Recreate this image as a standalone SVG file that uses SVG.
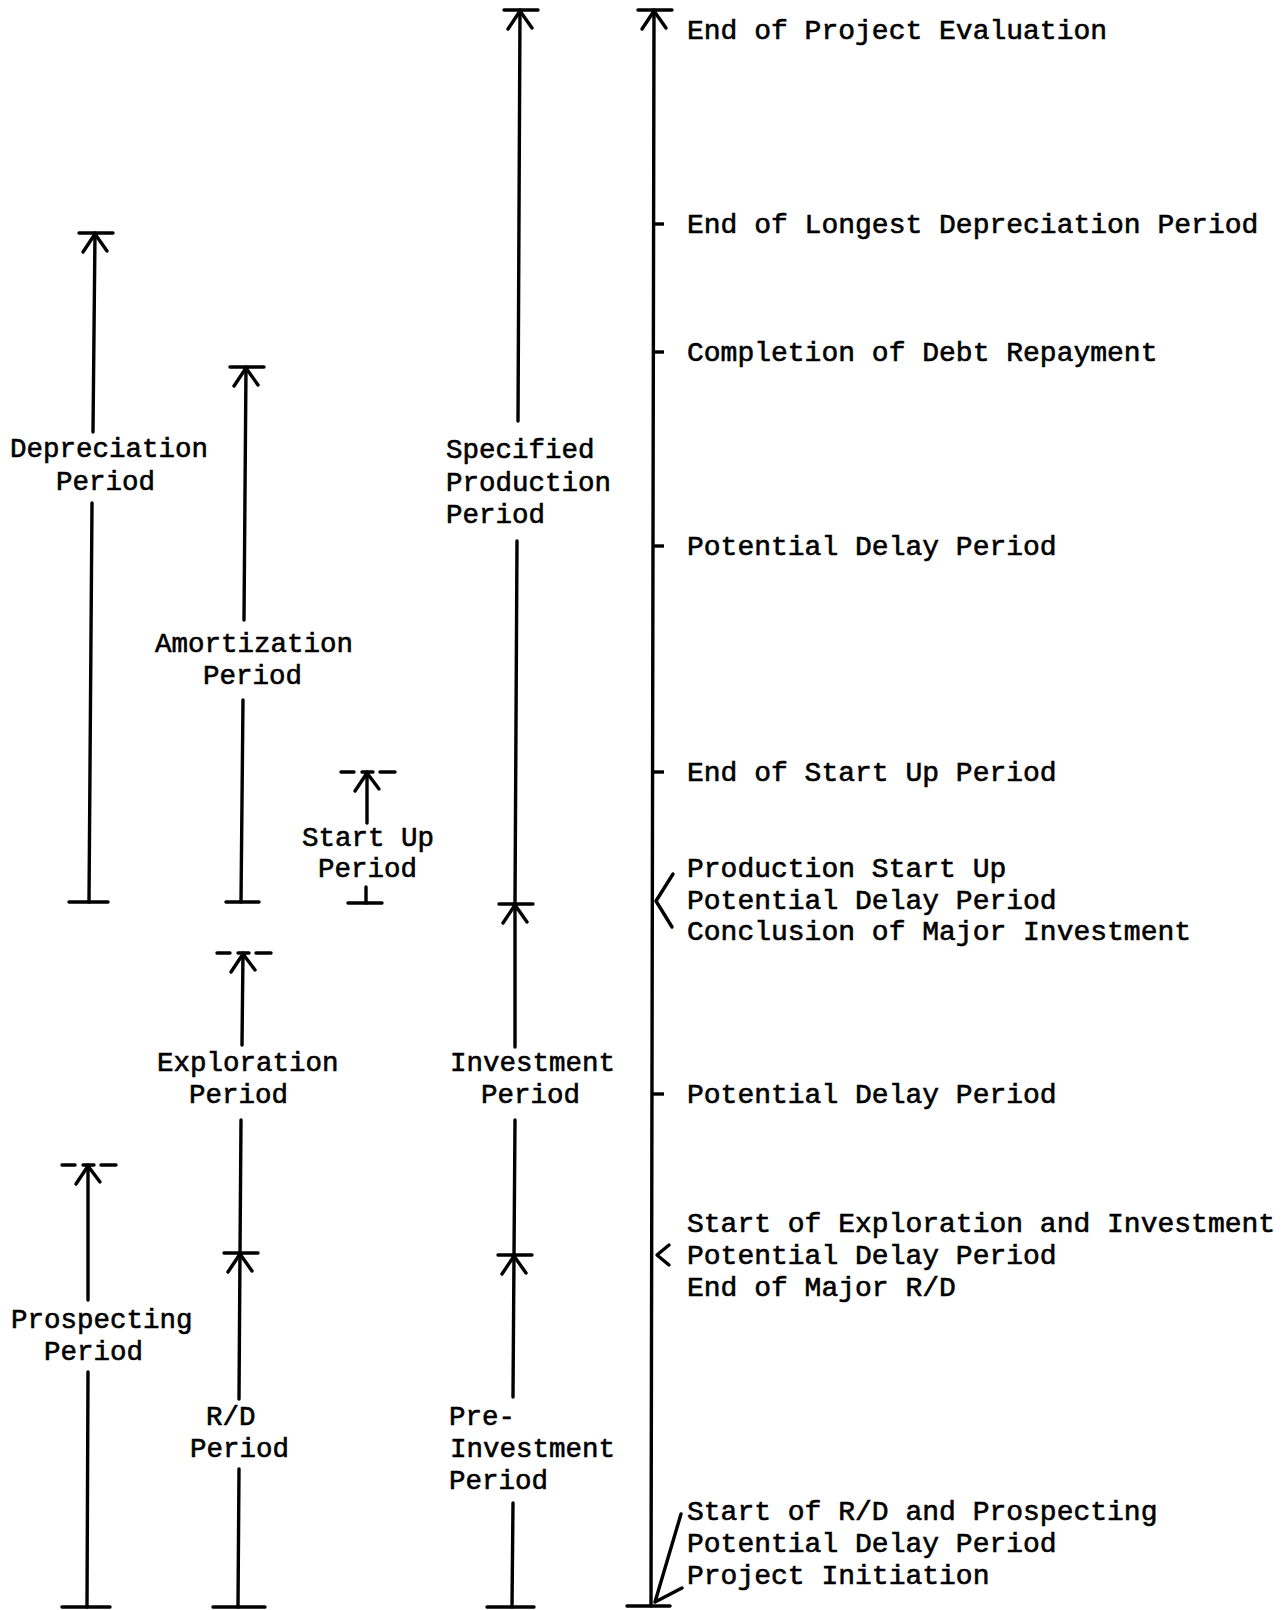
<svg xmlns="http://www.w3.org/2000/svg" width="1287" height="1610" viewBox="0 0 1287 1610">
<style>
  .ln { stroke:#000; stroke-width:3.4; fill:none; stroke-linecap:round; stroke-linejoin:round; }
  .tk { stroke:#000; stroke-width:3.4; fill:none; }
  .lbl { font-family:"Liberation Mono","Courier New",monospace; font-size:27.5px; fill:#000; stroke:#000; stroke-width:0.6; }
  .rl { font-family:"Liberation Mono","Courier New",monospace; font-size:28px; fill:#000; stroke:#000; stroke-width:0.6; }
</style>
<defs>
  <path id="cap" class="ln" d="M-16,0 H18 M0,1 L-12,19 M0,1 L12,18"/>
  <path id="ocap" class="ln" d="M-26,0 H-13 M-5,0 H6 M13,0 H28 M0,1 L-12,19 M0,1 L12,17"/>
</defs>
<rect width="1287" height="1610" fill="#fff"/>

<g id="connectors">
  <line class="ln" x1="654" y1="10" x2="651" y2="1606"/>
  <line class="ln" x1="95" y1="233" x2="93" y2="432"/>
  <line class="ln" x1="92" y1="503" x2="89" y2="902"/>
  <line class="ln" x1="246" y1="367" x2="244" y2="620"/>
  <line class="ln" x1="243" y1="700" x2="241" y2="902"/>
  <line class="ln" x1="367" y1="772" x2="367" y2="823"/>
  <line class="ln" x1="366" y1="887" x2="366" y2="903"/>
  <line class="ln" x1="520" y1="10" x2="518" y2="421"/>
  <line class="ln" x1="517" y1="541" x2="515" y2="904"/>
  <line class="ln" x1="515" y1="904" x2="515" y2="1047"/>
  <line class="ln" x1="515" y1="1120" x2="514" y2="1255"/>
  <line class="ln" x1="514" y1="1255" x2="513" y2="1397"/>
  <line class="ln" x1="513" y1="1503" x2="512" y2="1607"/>
  <line class="ln" x1="243" y1="953" x2="242" y2="1045"/>
  <line class="ln" x1="241" y1="1120" x2="240" y2="1253"/>
  <line class="ln" x1="240" y1="1253" x2="239" y2="1399"/>
  <line class="ln" x1="239" y1="1469" x2="238" y2="1607"/>
  <line class="ln" x1="88" y1="1165" x2="88" y2="1300"/>
  <line class="ln" x1="88" y1="1372" x2="87" y2="1607"/>
</g>

<g id="arrowheads">
  <use href="#cap" x="654" y="10"/>
  <use href="#cap" x="520" y="10"/>
  <use href="#cap" x="95" y="233"/>
  <use href="#cap" x="246" y="367"/>
  <use href="#cap" x="515" y="904"/>
  <use href="#cap" x="240" y="1253"/>
  <use href="#cap" x="514" y="1255"/>
  <use href="#ocap" x="367" y="772"/>
  <use href="#ocap" x="243" y="953"/>
  <use href="#ocap" x="88" y="1165"/>
</g>

<g id="feet">
  <line class="ln" x1="69" y1="902" x2="108" y2="902"/>
  <line class="ln" x1="226" y1="902" x2="259" y2="902"/>
  <line class="ln" x1="348" y1="903" x2="382" y2="903"/>
  <line class="ln" x1="62" y1="1607" x2="110" y2="1607"/>
  <line class="ln" x1="213" y1="1607" x2="265" y2="1607"/>
  <line class="ln" x1="487" y1="1607" x2="534" y2="1607"/>
  <line class="ln" x1="627" y1="1606" x2="670" y2="1606"/>
</g>

<g id="timeline-marks">
  <line class="tk" x1="652" y1="224" x2="664" y2="224"/>
  <line class="tk" x1="652" y1="352" x2="664" y2="352"/>
  <line class="tk" x1="652" y1="546" x2="664" y2="546"/>
  <line class="tk" x1="652" y1="772" x2="664" y2="772"/>
  <line class="tk" x1="652" y1="1094" x2="664" y2="1094"/>
  <path class="ln" d="M673,874 L656,901 L672,927"/>
  <path class="ln" d="M669,1245 L657,1255 L669,1265"/>
  <path class="ln" d="M681,1514 L655,1602 M682,1588 L655,1602"/>
</g>

<g id="node-depreciation">
  <text class="lbl" x="10" y="457">Depreciation</text>
  <text class="lbl" x="56" y="490">Period</text>
</g>
<g id="node-amortization">
  <text class="lbl" x="155" y="652">Amortization</text>
  <text class="lbl" x="203" y="684">Period</text>
</g>
<g id="node-startup">
  <text class="lbl" x="302" y="846">Start Up</text>
  <text class="lbl" x="318" y="877">Period</text>
</g>
<g id="node-specified-production">
  <text class="lbl" x="446" y="458">Specified</text>
  <text class="lbl" x="446" y="491">Production</text>
  <text class="lbl" x="446" y="523">Period</text>
</g>
<g id="node-exploration">
  <text class="lbl" x="157" y="1071">Exploration</text>
  <text class="lbl" x="189" y="1103">Period</text>
</g>
<g id="node-investment">
  <text class="lbl" x="450" y="1071">Investment</text>
  <text class="lbl" x="481" y="1103">Period</text>
</g>
<g id="node-prospecting">
  <text class="lbl" x="11" y="1328">Prospecting</text>
  <text class="lbl" x="44" y="1360">Period</text>
</g>
<g id="node-rd">
  <text class="lbl" x="206" y="1425">R/D</text>
  <text class="lbl" x="190" y="1457">Period</text>
</g>
<g id="node-preinvestment">
  <text class="lbl" x="449" y="1425">Pre-</text>
  <text class="lbl" x="450" y="1457">Investment</text>
  <text class="lbl" x="449" y="1489">Period</text>
</g>

<g id="node-timeline-labels">
  <text class="rl" x="687" y="39">End of Project Evaluation</text>
  <text class="rl" x="687" y="233">End of Longest Depreciation Period</text>
  <text class="rl" x="687" y="361">Completion of Debt Repayment</text>
  <text class="rl" x="687" y="555">Potential Delay Period</text>
  <text class="rl" x="687" y="781">End of Start Up Period</text>
  <text class="rl" x="687" y="877">Production Start Up</text>
  <text class="rl" x="687" y="909">Potential Delay Period</text>
  <text class="rl" x="687" y="940">Conclusion of Major Investment</text>
  <text class="rl" x="687" y="1103">Potential Delay Period</text>
  <text class="rl" x="687" y="1232">Start of Exploration and Investment</text>
  <text class="rl" x="687" y="1264">Potential Delay Period</text>
  <text class="rl" x="687" y="1296">End of Major R/D</text>
  <text class="rl" x="687" y="1520">Start of R/D and Prospecting</text>
  <text class="rl" x="687" y="1552">Potential Delay Period</text>
  <text class="rl" x="687" y="1584">Project Initiation</text>
</g>
</svg>
